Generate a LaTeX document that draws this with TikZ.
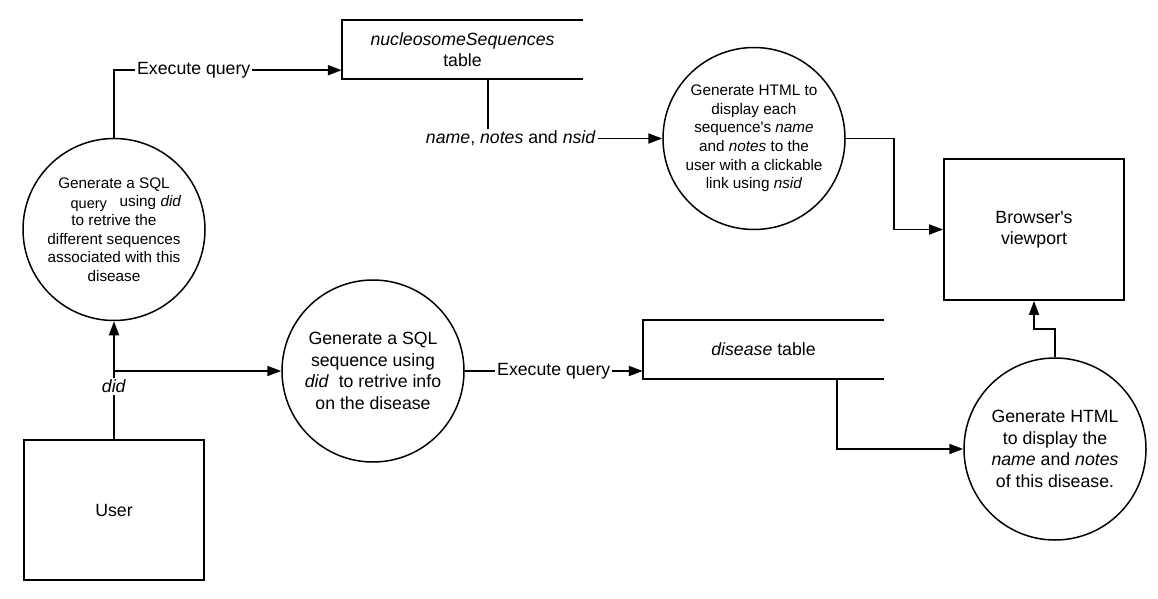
\documentclass[tikz,border=0pt]{standalone}
\usepackage{fontspec}
\setmainfont{Liberation Sans}
\usetikzlibrary{arrows.meta,calc}
\begin{document}
\begin{tikzpicture}[x=1pt,y=-1pt,
  big/.style={font=\fontsize{17.7}{21.5}\selectfont},
  small/.style={font=\fontsize{15.3}{18.6}\selectfont},
  proc/.style={circle,draw,line width=1.5pt,minimum size=182pt,inner sep=0pt,align=center},
  ent/.style={draw,line width=1.8pt,minimum width=180pt,minimum height=140pt,align=center,big},
  store/.style={minimum width=241pt,minimum height=59pt,inner sep=0pt,align=center,big},
  flow/.style={line width=1.8pt,-{Triangle[length=14pt,width=10pt]}},
  plain/.style={line width=1.8pt},
  lbl/.style={fill=white,inner sep=2pt,big}]
\useasboundingbox (0,0) rectangle (1158,599);
\node[ent] (user) at (114,510) {User};
\node[ent,minimum height=141pt] (browser) at (1034,229.5) {Browser\textquotesingle s\\viewport};
\node[proc,small] (c1) at (114,229.5) {Generate a SQL\\\hspace*{24pt}\raisebox{-2pt}{\fontsize{14.5}{16}\selectfont query}\ \ \ using \textit{did}\\to retrive the\\different sequences\\associated with this\\disease};
\node[proc,big] (c2) at (373,371) {Generate a SQL\\sequence using\\\textit{did}\ \ to retrive info\\on the disease};
\node[proc,small] (c3) at (754,138.5) {Generate HTML to\\display each\\sequence\textquotesingle s \textit{name}\\and \textit{notes} to the\\user with a clickable\\link using \textit{nsid}};
\node[proc,big] (c4) at (1055,449) {Generate HTML\\to display the\\\textit{name} and \textit{notes}\\of this disease.};
\node[store] (t1) at (462.5,49.5) {\textit{nucleosomeSequences}\\table};
\node[store] (t2) at (763.5,349.5) {\textit{disease} table};
\draw[plain] (t1.north east) -- (t1.north west) -- (t1.south west) -- (t1.south east);
\draw[plain] (t2.north east) -- (t2.north west) -- (t2.south west) -- (t2.south east);
% connectors
\draw[flow] (user.north) -- node[lbl,pos=0.445]{\textit{did}} (c1.south);
\coordinate (br) at (user.north |- c2.west);
\draw[flow] (br) -- (c2.west);
\draw[flow] (c1.north) |- node[lbl,pos=0.675]{Execute query} ($(t1.south west)+(0,-9)$);
\draw[flow] ($(t1.south west)+(146,0)$) |- node[lbl,pos=0.566]{\textit{name}, \textit{notes} and \textit{nsid}} (c3.west);
\draw[flow] (c3.east) -- ++(48,0) |- (browser.west);
\draw[flow] (c2.east) -- node[lbl]{Execute query} (c2.east -| t2.west);
\draw[flow] ($(t2.south west)+(194,0)$) |- (c4.west);
\draw[flow] (c4.north) -- ++(0,-28) -| (browser.south);
\end{tikzpicture}
\end{document}
